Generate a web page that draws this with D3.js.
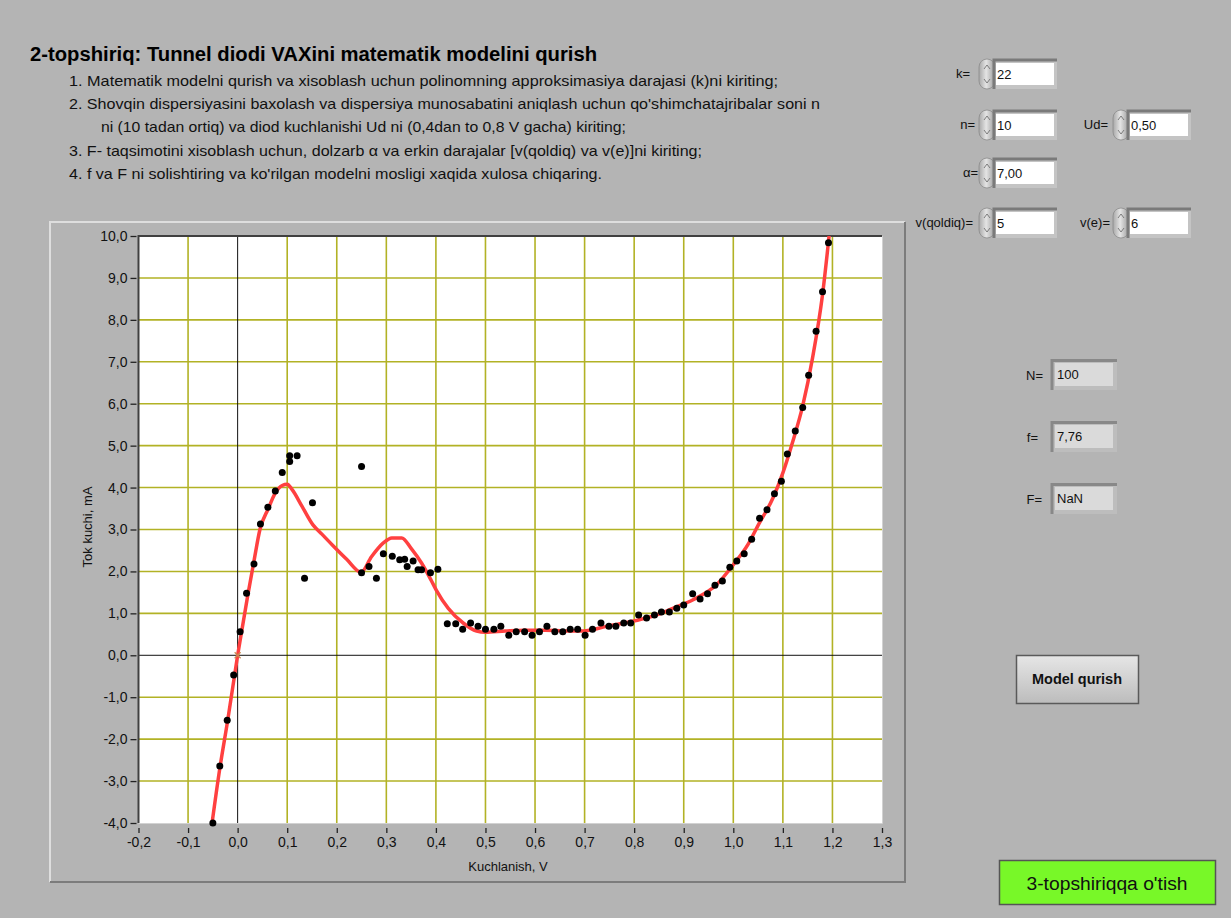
<!DOCTYPE html>
<html>
<head>
<meta charset="utf-8">
<script src="https://cdn.jsdelivr.net/npm/d3@7"></script>
<style>
  body { margin: 0; background: #b4b4b4; }
  text { font-family: "Liberation Sans", Arial, sans-serif; }
</style>
</head>
<body>
<div id="chart"></div>
<script>
// measured points (Kuchlanish, V / Tok kuchi, mA)
var voltage = [-0.050, -0.036, -0.021, -0.008, 0.005, 0.018, 0.033, 0.046, 0.061, 0.076,
  0.090, 0.105, 0.105, 0.120, 0.135, 0.151, 0.250, 0.250, 0.265, 0.280,
  0.294, 0.312, 0.327, 0.337, 0.342, 0.354, 0.364, 0.371, 0.389, 0.404,
  0.423, 0.440, 0.454, 0.470, 0.485, 0.500, 0.517, 0.531, 0.547, 0.562,
  0.579, 0.594, 0.609, 0.624, 0.640, 0.656, 0.671, 0.686, 0.701, 0.716,
  0.733, 0.749, 0.763, 0.779, 0.793, 0.809, 0.825, 0.841, 0.855, 0.871,
  0.886, 0.900, 0.918, 0.933, 0.948, 0.963, 0.978, 0.993, 1.007, 1.022,
  1.037, 1.053, 1.068, 1.083, 1.097, 1.109, 1.125, 1.140, 1.152, 1.167,
  1.180, 1.192];
var current = [-4.00, -2.64, -1.55, -0.47, 0.56, 1.48, 2.18, 3.13, 3.53, 3.92,
  4.36, 4.62, 4.76, 4.76, 1.84, 3.64, 4.50, 1.97, 2.12, 1.84,
  2.42, 2.36, 2.28, 2.29, 2.12, 2.25, 2.04, 2.04, 1.97, 2.05,
  0.75, 0.75, 0.62, 0.77, 0.69, 0.62, 0.62, 0.69, 0.48, 0.56,
  0.56, 0.48, 0.56, 0.69, 0.56, 0.56, 0.62, 0.62, 0.48, 0.62,
  0.77, 0.69, 0.69, 0.77, 0.77, 0.96, 0.89, 0.96, 1.03, 1.03,
  1.12, 1.20, 1.47, 1.34, 1.47, 1.67, 1.77, 2.10, 2.25, 2.42,
  2.77, 3.27, 3.47, 3.85, 4.15, 4.80, 5.35, 5.91, 6.68, 7.73,
  8.67, 9.84];

// polynomial model (k=22)
var fitU = [-0.055, -0.036, -0.020, 0.000, 0.020, 0.033, 0.045, 0.062, 0.075, 0.090,
  0.100, 0.110, 0.130, 0.152, 0.170, 0.192, 0.220, 0.249, 0.270, 0.294,
  0.311, 0.331, 0.350, 0.371, 0.390, 0.401, 0.425, 0.455, 0.482, 0.500,
  0.540, 0.580, 0.620, 0.660, 0.697, 0.744, 0.804, 0.850, 0.878, 0.918,
  0.966, 1.000, 1.030, 1.050, 1.080, 1.100, 1.120, 1.140, 1.160, 1.180,
  1.195];
var fitI = [-4.30, -2.70, -1.55, 0.00, 1.40, 2.25, 3.00, 3.50, 3.85, 4.05,
  4.08, 3.95, 3.55, 3.11, 2.89, 2.62, 2.29, 1.98, 2.35, 2.68,
  2.80, 2.80, 2.55, 2.20, 1.80, 1.55, 1.12, 0.77, 0.58, 0.55,
  0.58, 0.60, 0.60, 0.58, 0.58, 0.69, 0.83, 0.98, 1.12, 1.32,
  1.68, 2.16, 2.65, 3.10, 3.75, 4.35, 5.10, 5.95, 7.10, 8.60,
  10.20];

var xTicks = [-0.2, -0.1, 0.0, 0.1, 0.2, 0.3, 0.4, 0.5, 0.6, 0.7, 0.8, 0.9, 1.0, 1.1, 1.2, 1.3];
var yTicks = [-4, -3, -2, -1, 0, 1, 2, 3, 4, 5, 6, 7, 8, 9, 10];

var titleText = "2-topshiriq: Tunnel diodi VAXini matematik modelini qurish";
var steps = [
  "1. Matematik modelni qurish va xisoblash uchun polinomning approksimasiya  darajasi (k)ni kiriting;",
  "2. Shovqin dispersiyasini baxolash va dispersiya munosabatini aniqlash uchun qo'shimchatajribalar soni n",
  "ni (10 tadan ortiq) va diod kuchlanishi Ud ni (0,4dan to  0,8 V gacha) kiriting;",
  "3. F- taqsimotini xisoblash uchun, dolzarb \u03b1 va erkin darajalar [v(qoldiq) va v(e)]ni kiriting;",
  "4. f va F ni solishtiring va ko'rilgan modelni mosligi xaqida xulosa chiqaring."
];

var inputLabels = ["k=", "n=", "Ud=", "\u03b1=", "v(qoldiq)=", "v(e)="];
var inputValues = ["22", "10", "0,50", "7,00", "5", "6"];
var outputLabels = ["N=", "f=", "F="];
var outputValues = ["100", "7,76", "NaN"];

var W = 1231, H = 918;
var svg = d3.select("#chart").append("svg")
    .attr("width", W)
    .attr("height", H);

svg.append("rect").attr("width", W).attr("height", H).attr("fill", "#b4b4b4");

// header
svg.append("text")
    .attr("x", 30).attr("y", 61)
    .attr("font-size", 20).attr("font-weight", "bold")
    .attr("textLength", 567).attr("lengthAdjust", "spacingAndGlyphs")
    .attr("fill", "#000")
    .text(titleText);

var stepX = [69, 69, 101, 69, 69],
    stepEnd = [778, 820, 626, 702, 602],
    stepY = [86, 109, 132, 156, 179];
steps.forEach(function (s, i) {
  svg.append("text")
      .attr("x", stepX[i]).attr("y", stepY[i])
      .attr("font-size", 15)
      .attr("textLength", stepEnd[i] - stepX[i]).attr("lengthAdjust", "spacingAndGlyphs")
      .attr("fill", "#111")
      .text(s);
});

// graph panel
var panel = { x: 50, y: 222, w: 855, h: 660 };
svg.append("rect")
    .attr("x", panel.x).attr("y", panel.y)
    .attr("width", panel.w).attr("height", panel.h)
    .attr("fill", "#b4b4b4");
svg.append("path")
    .attr("d", "M" + panel.x + "," + (panel.y + panel.h) + "V" + panel.y + "H" + (panel.x + panel.w))
    .attr("fill", "none").attr("stroke", "#dedede").attr("stroke-width", 2);
svg.append("path")
    .attr("d", "M" + panel.x + "," + (panel.y + panel.h) + "H" + (panel.x + panel.w) + "V" + panel.y)
    .attr("fill", "none").attr("stroke", "#7c7c7c").attr("stroke-width", 2);

var plot = { left: 138.5, right: 882, top: 236, bottom: 823 };

var x = d3.scaleLinear().domain([-0.2, 1.3]).range([plot.left, plot.right]);
var y = d3.scaleLinear().domain([-4, 10]).range([plot.bottom, plot.top]);

var fmt = function (d) { return d3.format(".1f")(d).replace(".", ",").replace("\u2212", "-"); };

svg.append("rect")
    .attr("x", plot.left).attr("y", plot.top)
    .attr("width", plot.right - plot.left).attr("height", plot.bottom - plot.top)
    .attr("fill", "#fff");

var grid = svg.append("g").attr("stroke", "#b2b225").attr("stroke-width", 1.6);
grid.selectAll(".vg")
    .data(xTicks.filter(function (d) { return d > -0.2 && d < 1.3 && d !== 0; }))
    .enter().append("line")
    .attr("x1", function (d) { return x(d); }).attr("x2", function (d) { return x(d); })
    .attr("y1", plot.top).attr("y2", plot.bottom);
grid.selectAll(".hg")
    .data(yTicks.filter(function (d) { return d > -4 && d < 10 && d !== 0; }))
    .enter().append("line")
    .attr("y1", function (d) { return y(d); }).attr("y2", function (d) { return y(d); })
    .attr("x1", plot.left).attr("x2", plot.right);

// zero axes
svg.append("line").attr("x1", x(0)).attr("x2", x(0)).attr("y1", plot.top).attr("y2", plot.bottom)
    .attr("stroke", "#111").attr("stroke-width", 1);
svg.append("line").attr("y1", y(0)).attr("y2", y(0)).attr("x1", plot.left).attr("x2", plot.right)
    .attr("stroke", "#111").attr("stroke-width", 1);

// sunken frame of plot area
svg.append("path")
    .attr("d", "M" + plot.left + "," + plot.bottom + "V" + plot.top + "H" + plot.right)
    .attr("fill", "none").attr("stroke", "#404040").attr("stroke-width", 2);
svg.append("path")
    .attr("d", "M" + plot.left + "," + (plot.bottom + 0.5) + "H" + (plot.right + 0.5) + "V" + plot.top)
    .attr("fill", "none").attr("stroke", "#d2d2d2").attr("stroke-width", 1);

// axes
var xAxis = svg.append("g")
    .attr("transform", "translate(0," + (plot.bottom + 5) + ")")
    .call(d3.axisBottom(x).tickValues(xTicks).tickFormat(fmt).tickSize(5).tickPadding(4));
var yAxis = svg.append("g")
    .attr("transform", "translate(" + (plot.left - 2) + ",0)")
    .call(d3.axisLeft(y).tickValues(yTicks).tickFormat(fmt).tickSize(6).tickPadding(3));
[xAxis, yAxis].forEach(function (a) {
  a.select(".domain").remove();
  a.selectAll("line").attr("stroke", "#222").attr("stroke-width", 1.3);
  a.selectAll("text").attr("font-size", 14).attr("fill", "#111")
      .attr("font-family", "'Liberation Sans', Arial, sans-serif");
});

svg.append("text")
    .attr("x", 508).attr("y", 871)
    .attr("text-anchor", "middle").attr("font-size", 13).attr("fill", "#111")
    .text("Kuchlanish, V");
svg.append("text")
    .attr("transform", "translate(92,527) rotate(-90)")
    .attr("text-anchor", "middle").attr("font-size", 13).attr("fill", "#111")
    .text("Tok kuchi, mA");

// clip for the model curve
svg.append("clipPath").attr("id", "plotClip")
    .append("rect")
    .attr("x", plot.left).attr("y", plot.top)
    .attr("width", plot.right - plot.left).attr("height", plot.bottom - plot.top);

var fit = fitU.map(function (u, i) { return [u, fitI[i]]; });
var line = d3.line()
    .x(function (d) { return x(d[0]); })
    .y(function (d) { return y(d[1]); })
    .curve(d3.curveMonotoneX);

svg.append("path")
    .datum(fit)
    .attr("clip-path", "url(#plotClip)")
    .attr("d", line)
    .attr("fill", "none")
    .attr("stroke", "#ff4040")
    .attr("stroke-width", 3.5)
    .attr("stroke-linejoin", "round");

var pts = voltage.map(function (u, i) { return [u, current[i]]; });
svg.selectAll(".pt")
    .data(pts)
    .enter().append("circle")
    .attr("class", "pt")
    .attr("cx", function (d) { return x(d[0]); })
    .attr("cy", function (d) { return y(d[1]); })
    .attr("r", 3.5)
    .attr("fill", "#000");

// cursor cross at origin
svg.append("path")
    .attr("d", "M" + (x(0) - 3) + "," + (y(0) - 3) + "l6,6M" + (x(0) + 3) + "," + (y(0) - 3) + "l-6,6")
    .attr("stroke", "#c88a50").attr("stroke-width", 1.2);

// numeric input controls
var inputPos = [
  { lx: 970, sx: 979, y: 59 },
  { lx: 975, sx: 979, y: 110 },
  { lx: 1108, sx: 1113, y: 110 },
  { lx: 978, sx: 979, y: 158 },
  { lx: 973, sx: 979, y: 208 },
  { lx: 1110, sx: 1113, y: 208 }
];

var defs = svg.append("defs");
var sg = defs.append("linearGradient").attr("id", "spin").attr("x1", 0).attr("x2", 1).attr("y1", 0).attr("y2", 0);
sg.append("stop").attr("offset", "0%").attr("stop-color", "#a8a8a8");
sg.append("stop").attr("offset", "45%").attr("stop-color", "#e4e4e4");
sg.append("stop").attr("offset", "100%").attr("stop-color", "#9a9a9a");
var bg = defs.append("linearGradient").attr("id", "btn").attr("x1", 0).attr("x2", 0).attr("y1", 0).attr("y2", 1);
bg.append("stop").attr("offset", "0%").attr("stop-color", "#e6e6e6");
bg.append("stop").attr("offset", "100%").attr("stop-color", "#bcbcbc");

inputLabels.forEach(function (lab, i) {
  var p = inputPos[i];
  var g = svg.append("g");
  g.append("text")
      .attr("x", p.lx).attr("y", p.y + 19)
      .attr("text-anchor", "end").attr("font-size", 13).attr("fill", "#111")
      .text(lab);
  // spinner
  g.append("rect")
      .attr("x", p.sx).attr("y", p.y)
      .attr("width", 16).attr("height", 30).attr("rx", 8)
      .attr("fill", "url(#spin)").attr("stroke", "#8c8c8c").attr("stroke-width", 0.8);
  g.append("path")
      .attr("d", "M" + (p.sx + 5) + "," + (p.y + 10) + "l3,-4l3,4M" + (p.sx + 5) + "," + (p.y + 20) + "l3,4l3,-4")
      .attr("fill", "none").attr("stroke", "#666").attr("stroke-width", 0.8);
  // text box with bevel
  var bx = p.sx + 15;
  g.append("rect")
      .attr("x", bx).attr("y", p.y + 1)
      .attr("width", 63).attr("height", 29)
      .attr("fill", "#c4c4c4");
  g.append("path")
      .attr("d", "M" + bx + "," + (p.y + 30) + "V" + (p.y + 1) + "H" + (bx + 63))
      .attr("fill", "none").attr("stroke", "#7a7a7a").attr("stroke-width", 3);
  g.append("rect")
      .attr("x", bx + 2).attr("y", p.y + 4)
      .attr("width", 58).attr("height", 22)
      .attr("fill", "#fff");
  g.append("text")
      .attr("x", bx + 3).attr("y", p.y + 20)
      .attr("font-size", 13).attr("fill", "#111")
      .text(inputValues[i]);
});

// indicators
var outY = [359, 421, 483];
var outLx = [1043, 1038, 1042];
outputLabels.forEach(function (lab, i) {
  var yy = outY[i];
  var g = svg.append("g");
  g.append("text")
      .attr("x", outLx[i]).attr("y", yy + 21)
      .attr("text-anchor", "end").attr("font-size", 13).attr("fill", "#111")
      .text(lab);
  g.append("rect")
      .attr("x", 1051).attr("y", yy)
      .attr("width", 66).attr("height", 31)
      .attr("fill", "#bdbdbd");
  g.append("path")
      .attr("d", "M1052," + (yy + 31) + "V" + (yy + 1.5) + "H1117")
      .attr("fill", "none").attr("stroke", "#888").attr("stroke-width", 3);
  g.append("rect")
      .attr("x", 1055).attr("y", yy + 4)
      .attr("width", 58).attr("height", 23)
      .attr("fill", "#dadada");
  g.append("text")
      .attr("x", 1057).attr("y", yy + 20)
      .attr("font-size", 13).attr("fill", "#111")
      .text(outputValues[i]);
});

// buttons
svg.append("rect")
    .attr("x", 1016.5).attr("y", 655.5).attr("width", 122).attr("height", 48)
    .attr("fill", "url(#btn)").attr("stroke", "#5a5a5a").attr("stroke-width", 1.5);
svg.append("text")
    .attr("x", 1077).attr("y", 684)
    .attr("text-anchor", "middle").attr("font-size", 14).attr("font-weight", "bold").attr("fill", "#111")
    .attr("textLength", 90).attr("lengthAdjust", "spacingAndGlyphs")
    .text("Model qurish");

svg.append("rect")
    .attr("x", 999.5).attr("y", 860.5).attr("width", 216).attr("height", 44)
    .attr("fill", "#78f828").attr("stroke", "#555").attr("stroke-width", 1.5);
svg.append("text")
    .attr("x", 1107).attr("y", 890)
    .attr("text-anchor", "middle").attr("font-size", 18).attr("fill", "#111")
    .attr("textLength", 161).attr("lengthAdjust", "spacingAndGlyphs")
    .text("3-topshiriqqa o'tish");
</script>
</body>
</html>
